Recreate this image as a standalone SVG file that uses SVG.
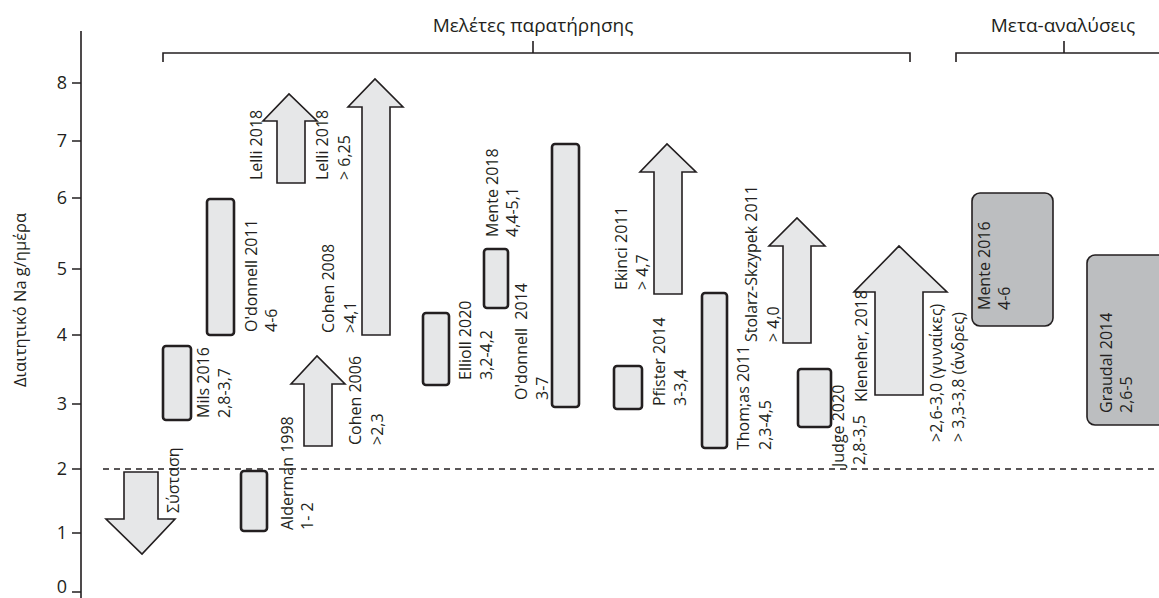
<svg xmlns="http://www.w3.org/2000/svg" width="1159" height="598" viewBox="0 0 1159 598">
  <style>
    text { font-family: "Open Sans", "Liberation Sans", sans-serif; fill: #231f20; }
    .lbl { font-size: 16px; white-space: pre; }
    .ylab { font-size: 16.5px; }
    .tick { font-size: 18px; text-anchor: end; }
    .head { font-size: 19px; text-anchor: middle; }
    .ax { stroke: #231f20; stroke-width: 1.6; fill: none; }
    .box { fill: #e6e7e8; stroke: #231f20; stroke-width: 2.6; }
    .arr { fill: #e6e7e8; stroke: #231f20; stroke-width: 1.6; stroke-linejoin: miter; }
    .meta { fill: #bcbec0; stroke: #231f20; stroke-width: 1.6; }
  </style>

  <!-- axis, scale and group brackets -->
  <g id="axis">
    <path class="ax" d="M81,31 V598 M72,83 H81 M72,141 H81 M72,198 H81 M72,269 H81 M72,335 H81 M72,404 H81 M72,469 H81 M72,533 H81 M72,592 H81"/>
    <text class="tick" x="67" y="89">8</text>
    <text class="tick" x="67" y="147">7</text>
    <text class="tick" x="67" y="204">6</text>
    <text class="tick" x="67" y="275">5</text>
    <text class="tick" x="67" y="341">4</text>
    <text class="tick" x="67" y="410">3</text>
    <text class="tick" x="67" y="475">2</text>
    <text class="tick" x="67" y="539">1</text>
    <text class="tick" x="67" y="593">0</text>
    <text class="ylab" text-anchor="middle" transform="translate(26,300) rotate(-90)">Διαιτητικό Na g/ημέρα</text>
  </g>

  <g id="connectors">
    <path class="ax" d="M163,62 V53 H910 V62 M533,53 V41"/>
    <path class="ax" d="M956,62 V53 H1159 M1064,53 V41"/>
    <path class="ax" d="M103,469 H1159" stroke-dasharray="6 5"/>
  </g>

  <text class="head" x="533" y="32">Μελέτες παρατήρησης</text>
  <text class="head" x="1063" y="32">Μετα-αναλύσεις</text>

  <g id="systasi">
    <polygon class="arr" points="124,472 158,472 158,519 175,519 142,554 106,519 124,519"/>
    <text class="lbl" transform="translate(179,513) rotate(-90)">Σύσταση</text>
  </g>

  <g id="mils2016">
    <rect class="box" x="163" y="346" width="28" height="74" rx="3"/>
    <text class="lbl" transform="translate(209,418) rotate(-90)">Mils 2016</text>
    <text class="lbl" transform="translate(230,418) rotate(-90)">2,8-3,7</text>
  </g>

  <g id="odonnell2011">
    <rect class="box" x="207" y="199" width="27" height="136" rx="3"/>
    <text class="lbl" transform="translate(257,332) rotate(-90)">O'donnell 2011</text>
    <text class="lbl" transform="translate(277,332) rotate(-90)">4-6</text>
  </g>

  <g id="alderman1998">
    <rect class="box" x="241" y="471" width="26" height="60" rx="3"/>
    <text class="lbl" transform="translate(293,530) rotate(-90)">Alderman 1998</text>
    <text class="lbl" transform="translate(313,530) rotate(-90)">1- 2</text>
  </g>

  <g id="lelli2018">
    <polygon class="arr" points="277,183 277,121 263,121 289,94 317,121 305,121 305,183"/>
    <text class="lbl" transform="translate(262,180) rotate(-90)">Lelli 2018</text>
    <text class="lbl" transform="translate(328,180) rotate(-90)">Lelli 2018</text>
    <text class="lbl" transform="translate(350,180) rotate(-90)">&gt; 6,25</text>
  </g>

  <g id="cohen2008">
    <polygon class="arr" points="362,335 362,107 348,107 375,79 403,107 390,107 390,335"/>
    <text class="lbl" transform="translate(334,333) rotate(-90)">Cohen 2008</text>
    <text class="lbl" transform="translate(356,333) rotate(-90)">&gt;4,1</text>
  </g>

  <g id="cohen2006">
    <polygon class="arr" points="304,446 304,384 291,384 317,356 345,384 332,384 332,446"/>
    <text class="lbl" transform="translate(361,445) rotate(-90)">Cohen 2006</text>
    <text class="lbl" transform="translate(383,445) rotate(-90)">&gt;2,3</text>
  </g>

  <g id="ellioll2020">
    <rect class="box" x="423" y="313" width="26" height="72" rx="3"/>
    <text class="lbl" transform="translate(471,380) rotate(-90)">Ellioll 2020</text>
    <text class="lbl" transform="translate(492,380) rotate(-90)">3,2-4,2</text>
  </g>

  <g id="mente2018">
    <rect class="box" x="484" y="249" width="24" height="59" rx="3"/>
    <text class="lbl" transform="translate(498,237) rotate(-90)">Mente 2018</text>
    <text class="lbl" transform="translate(518,237) rotate(-90)">4,4-5,1</text>
  </g>

  <g id="odonnell2014">
    <rect class="box" x="552" y="144" width="27" height="263" rx="3"/>
    <text class="lbl" transform="translate(527,400) rotate(-90)">O'donnell  2014</text>
    <text class="lbl" transform="translate(548,400) rotate(-90)">3-7</text>
  </g>

  <g id="pfister2014">
    <rect class="box" x="614" y="366" width="28" height="43" rx="3"/>
    <text class="lbl" transform="translate(665,406) rotate(-90)">Pfister 2014</text>
    <text class="lbl" transform="translate(686,406) rotate(-90)">3-3,4</text>
  </g>

  <g id="ekinci2011">
    <polygon class="arr" points="654,294 654,172 640,172 667,144 696,172 682,172 682,294"/>
    <text class="lbl" transform="translate(627,290) rotate(-90)">Ekinci 2011</text>
    <text class="lbl" transform="translate(648,290) rotate(-90)">&gt; 4,7</text>
  </g>

  <g id="thomas2011">
    <rect class="box" x="702" y="293" width="25" height="155" rx="3"/>
    <text class="lbl" transform="translate(749,450) rotate(-90)">Thom;as 2011</text>
    <text class="lbl" transform="translate(771,450) rotate(-90)">2,3-4,5</text>
  </g>

  <g id="stolarz2011">
    <polygon class="arr" points="783,343 783,246 769,246 797,218 825,246 811,246 811,343"/>
    <text class="lbl" transform="translate(757,342) rotate(-90)">Stolarz-Skzypek 2011</text>
    <text class="lbl" transform="translate(779,342) rotate(-90)">&gt; 4,0</text>
  </g>

  <g id="judge2020">
    <rect class="box" x="798" y="369" width="33" height="58" rx="3"/>
    <text class="lbl" transform="translate(844,467) rotate(-90)">Judge 2020</text>
    <text class="lbl" transform="translate(865,465) rotate(-90)">2,8-3,5</text>
  </g>

  <g id="kleneher2018">
    <polygon class="arr" points="875,395 875,292 854,292 899,246 947,292 923,292 923,395"/>
    <text class="lbl" transform="translate(867,402) rotate(-90)">Kleneher, 2018</text>
    <text class="lbl" transform="translate(942,442) rotate(-90)">&gt;2,6-3,0 (γυναίκες)</text>
    <text class="lbl" transform="translate(964,442) rotate(-90)">&gt; 3,3-3,8 (άνδρες)</text>
  </g>

  <g id="mente2016">
    <rect class="meta" x="972" y="193" width="81" height="133" rx="8"/>
    <text class="lbl" transform="translate(990,310) rotate(-90)">Mente 2016</text>
    <text class="lbl" transform="translate(1010,310) rotate(-90)">4-6</text>
  </g>

  <g id="graudal2014">
    <rect class="meta" x="1087" y="255" width="90" height="170" rx="8"/>
    <text class="lbl" transform="translate(1112,413) rotate(-90)">Graudal 2014</text>
    <text class="lbl" transform="translate(1132,413) rotate(-90)">2,6-5</text>
  </g>
</svg>
